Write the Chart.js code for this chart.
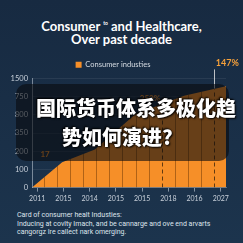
<!DOCTYPE html>
<html>
<head>
<meta charset="utf-8">
<script src="https://cdn.jsdelivr.net/npm/chart.js@4.4.1/dist/chart.umd.min.js"></script>
<style>
html, body { margin: 0; padding: 0; }
body {
    width: 243px; height: 243px; overflow: hidden; position: relative;
    background: linear-gradient(#172a41, #1c344d);
    font-family: Lato, sans-serif;
}
#title {
    position: absolute; left: 0; top: 17px; width: 243px; text-align: center;
    color: #fff; font: 700 13px/13px Lato, sans-serif;
}
#title sup { font-size: 5px; vertical-align: 6px; }
#wrap { position: absolute; left: 0; top: 0; width: 243px; height: 206px; }
#shade {
    position: absolute; left: 16px; top: 84px; width: 213px; height: 77px;
    background: rgba(8, 10, 14, 0.6); border-radius: 10px;
}
.cn {
    position: absolute; color: #fff; white-space: nowrap;
    font: 900 20px/20px "Noto Sans CJK SC", sans-serif;
    text-shadow: 1px 1px 2px #000, -1px -1px 2px #000;
}
#note {
    position: absolute; left: 17px; top: 211px; width: 226px;
    color: #dfe5ec; font: 400 7px/8.5px Roboto, sans-serif;
}
</style>
</head>
<body>
<div id="title">Consumer <sup>to</sup> and Healthcare,<br>Over past decade</div>
<div id="wrap"><canvas id="areaChart"></canvas></div>
<div id="shade"></div>
<div class="cn" style="left:36px; top:98px;">国际货币体系多极化趋</div>
<div class="cn" style="left:62px; top:127px;">势如何演进?</div>
<div id="note">Card of consumer healt Industies:<br>Inducing at covlty Imach, and be cannarge and ove end arvarts<br>cangorgz Ire callect nark omerging.</div>
<script>
// x axis: category labels as printed on the chart
const xLabels = ['2011', '2015', '2014', '2015', '2015', '2018', '2016', '2027'];
// y axis: labels sit at even steps
const yTickLabels = ['0', '100', '200', '350', '800', '750', '1500'];

// orange area outline (x in label steps, y in tick steps)
const areaX = [-0.2, 0.95, 2.2, 3.75, 5.6, 7.2];
const areaY = [0, 1.4, 2.1, 4.05, 5.05, 5.57];

// thin stripes in the area, some dashed
const stripeX = [0.25, 0.75, 1.25, 1.75, 2.25, 2.75, 3.25, 3.75, 4.25, 4.75, 5.25, 5.75, 6.25, 6.75];
const dashedX = [4.75, 6.75];

// value notes
const noteText = ['17', '350%', '147%'];
const noteX = [0.3, 4.3, 7.25];
const noteY = [1.84, 4.9, 6.85];
const noteColor = ['#e88a2a', '#e88a2a', '#f7a13a'];

const ctx = document.getElementById('areaChart').getContext('2d');

// stripes, dashed markers and the value notes
const extras = {
    id: 'extras',
    afterDatasetsDraw(chart) {
        const { ctx, chartArea, scales: { x, y } } = chart;
        const pts = chart.getDatasetMeta(0).data;
        ctx.save();
        ctx.beginPath();
        ctx.moveTo(pts[0].x, chartArea.bottom);
        pts.forEach(p => ctx.lineTo(p.x, p.y));
        ctx.lineTo(pts[pts.length - 1].x, chartArea.bottom);
        ctx.closePath();
        ctx.clip();
        ctx.lineWidth = 1;
        stripeX.forEach(v => {
            const px = Math.round(x.getPixelForValue(v)) + 0.5;
            ctx.strokeStyle = dashedX.includes(v) ? 'rgba(60,35,10,0.8)' : 'rgba(90,45,0,0.45)';
            ctx.setLineDash(dashedX.includes(v) ? [4, 3] : []);
            ctx.beginPath();
            ctx.moveTo(px, chartArea.top);
            ctx.lineTo(px, chartArea.bottom);
            ctx.stroke();
        });
        ctx.restore();

        // light marker line up to the last note
        ctx.save();
        const mx = Math.round(x.getPixelForValue(dashedX[1])) + 0.5;
        ctx.strokeStyle = 'rgba(230,230,230,0.8)';
        ctx.lineWidth = 1;
        ctx.beginPath();
        ctx.moveTo(mx, y.getPixelForValue(5.45));
        ctx.lineTo(mx, y.getPixelForValue(6.5));
        ctx.stroke();

        ctx.textAlign = 'center';
        ctx.textBaseline = 'middle';
        noteText.forEach((t, i) => {
            ctx.fillStyle = noteColor[i];
            ctx.font = (i === 2 ? '700 9px' : '700 8px') + ' Lato, sans-serif';
            ctx.fillText(t, x.getPixelForValue(noteX[i]), y.getPixelForValue(noteY[i]));
        });
        ctx.restore();
    }
};

const areaChart = new Chart(ctx, {
    type: 'line',
    data: {
        datasets: [{
            label: 'Consumer industies',
            data: areaX.map((v, i) => ({ x: v, y: areaY[i] })),
            borderWidth: 0,
            borderColor: '#f68f28',
            backgroundColor: '#f68f28',
            pointRadius: 0,
            tension: 0,
            fill: 'origin'
        }]
    },
    options: {
        responsive: true,
        maintainAspectRatio: false,
        animation: false,
        layout: { padding: { top: 58, right: 17, left: 0, bottom: 0 } },
        plugins: {
            legend: {
                display: true,
                labels: {
                    color: '#d5dbe2',
                    font: { size: 7.5, family: 'Lato' },
                    boxWidth: 6, boxHeight: 6, padding: 3
                }
            },
            tooltip: { enabled: false }
        },
        scales: {
            x: {
                type: 'linear',
                min: -0.2, max: 7.2,
                afterBuildTicks: s => { s.ticks = xLabels.map((_, i) => ({ value: i })); },
                ticks: {
                    color: '#c8d0da', font: { size: 7, family: 'Lato' },
                    padding: 3, maxRotation: 0,
                    callback: v => xLabels[v]
                },
                grid: { drawOnChartArea: false, drawTicks: true, tickLength: 4, color: 'rgba(200,210,220,0.6)' },
                border: { color: 'rgba(200,210,220,0.4)' }
            },
            y: {
                type: 'linear',
                min: 0, max: 6,
                afterBuildTicks: s => { s.ticks = yTickLabels.map((_, i) => ({ value: i })); },
                afterFit: s => { s.width = 32; },
                ticks: {
                    color: '#c8d0da', font: { size: 7.5, family: 'Lato' },
                    padding: 4,
                    callback: v => yTickLabels[v]
                },
                grid: { color: 'rgba(255,255,255,0.07)', tickLength: 0 },
                border: { color: 'rgba(200,210,220,0.55)' }
            }
        }
    },
    plugins: [extras]
});
</script>
</body>
</html>
